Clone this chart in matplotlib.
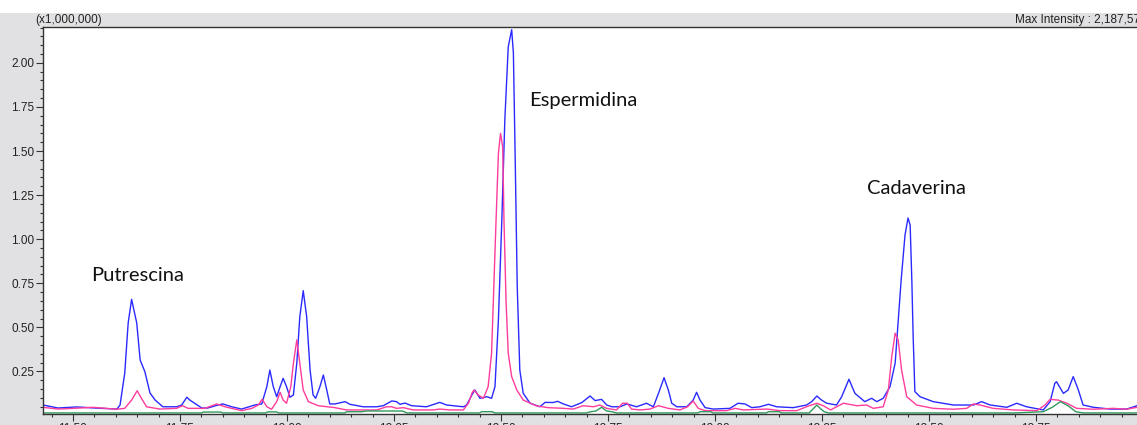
import matplotlib
matplotlib.use("Agg")
import matplotlib.pyplot as plt
from matplotlib.patches import Rectangle
from matplotlib.ticker import MultipleLocator, FormatStrFormatter

# retention time (min) / intensity (x1,000,000)
blue_t = [11.430, 11.465, 11.509, 11.551, 11.603, 11.610, 11.621, 11.629, 11.637, 11.649,
          11.657, 11.668, 11.680, 11.692, 11.710, 11.743, 11.754, 11.766, 11.773, 11.801,
          11.815, 11.839, 11.850, 11.871, 11.894, 11.925, 11.941, 11.953, 11.960, 11.968,
          11.976, 11.984, 11.991, 11.999, 12.007, 12.015, 12.023, 12.030, 12.038, 12.046,
          12.054, 12.061, 12.067, 12.077, 12.085, 12.093, 12.100, 12.112, 12.136, 12.147,
          12.178, 12.210, 12.225, 12.245, 12.256, 12.264, 12.276, 12.291, 12.326, 12.357,
          12.373, 12.412, 12.420, 12.432, 12.439, 12.451, 12.467, 12.478, 12.486, 12.494,
          12.502, 12.509, 12.517, 12.525, 12.529, 12.533, 12.538, 12.544, 12.552, 12.568,
          12.591, 12.603, 12.622, 12.632, 12.646, 12.665, 12.689, 12.708, 12.720, 12.735,
          12.747, 12.759, 12.778, 12.794, 12.817, 12.840, 12.856, 12.868, 12.881, 12.891,
          12.899, 12.911, 12.934, 12.949, 12.957, 12.965, 12.977, 12.996, 13.035, 13.054,
          13.070, 13.086, 13.105, 13.125, 13.144, 13.183, 13.214, 13.226, 13.238, 13.249,
          13.261, 13.284, 13.296, 13.313, 13.327, 13.350, 13.366, 13.378, 13.393, 13.409,
          13.421, 13.435, 13.444, 13.451, 13.456, 13.460, 13.463, 13.467, 13.479, 13.510,
          13.557, 13.604, 13.623, 13.643, 13.682, 13.705, 13.728, 13.767, 13.783, 13.794,
          13.798, 13.814, 13.825, 13.837, 13.849, 13.860, 13.884, 13.923, 13.962, 13.986]
blue_i = [0.060, 0.043, 0.049, 0.043, 0.037, 0.060, 0.241, 0.525, 0.659, 0.525,
          0.315, 0.249, 0.128, 0.088, 0.050, 0.050, 0.060, 0.104, 0.088, 0.043,
          0.043, 0.060, 0.066, 0.050, 0.037, 0.060, 0.066, 0.164, 0.258, 0.164,
          0.107, 0.164, 0.211, 0.164, 0.104, 0.117, 0.298, 0.561, 0.708, 0.561,
          0.258, 0.117, 0.098, 0.164, 0.230, 0.145, 0.066, 0.066, 0.079, 0.064,
          0.050, 0.050, 0.056, 0.083, 0.079, 0.064, 0.071, 0.056, 0.050, 0.075,
          0.060, 0.050, 0.060, 0.117, 0.145, 0.098, 0.107, 0.098, 0.164, 0.542,
          1.109, 1.676, 2.091, 2.188, 2.056, 1.489, 0.731, 0.258, 0.126, 0.070,
          0.050, 0.075, 0.074, 0.081, 0.066, 0.050, 0.074, 0.111, 0.085, 0.092,
          0.060, 0.050, 0.050, 0.066, 0.050, 0.070, 0.050, 0.126, 0.215, 0.145,
          0.070, 0.050, 0.050, 0.088, 0.132, 0.088, 0.045, 0.037, 0.041, 0.070,
          0.066, 0.045, 0.050, 0.064, 0.050, 0.045, 0.060, 0.079, 0.111, 0.088,
          0.070, 0.060, 0.107, 0.206, 0.126, 0.079, 0.098, 0.079, 0.098, 0.164,
          0.298, 0.769, 1.024, 1.120, 1.080, 0.760, 0.450, 0.136, 0.107, 0.079,
          0.060, 0.060, 0.079, 0.060, 0.047, 0.070, 0.050, 0.032, 0.079, 0.183,
          0.192, 0.126, 0.145, 0.221, 0.145, 0.060, 0.047, 0.037, 0.037, 0.056]

pink_t = [11.430, 11.465, 11.501, 11.547, 11.602, 11.621, 11.637, 11.650, 11.660, 11.672,
          11.703, 11.742, 11.756, 11.769, 11.785, 11.808, 11.836, 11.855, 11.894, 11.918,
          11.933, 11.942, 11.953, 11.964, 11.976, 11.984, 11.991, 11.999, 12.009, 12.015,
          12.023, 12.030, 12.038, 12.050, 12.073, 12.112, 12.139, 12.210, 12.233, 12.245,
          12.256, 12.272, 12.295, 12.342, 12.357, 12.381, 12.412, 12.424, 12.432, 12.437,
          12.447, 12.459, 12.470, 12.478, 12.482, 12.488, 12.494, 12.499, 12.504, 12.507,
          12.512, 12.517, 12.525, 12.537, 12.552, 12.583, 12.610, 12.646, 12.669, 12.692,
          12.716, 12.731, 12.747, 12.770, 12.784, 12.795, 12.805, 12.825, 12.848, 12.868,
          12.891, 12.918, 12.936, 12.949, 12.961, 12.977, 13.027, 13.047, 13.066, 13.121,
          13.152, 13.191, 13.218, 13.238, 13.253, 13.270, 13.300, 13.331, 13.354, 13.370,
          13.393, 13.405, 13.413, 13.421, 13.428, 13.436, 13.448, 13.471, 13.510, 13.557,
          13.588, 13.604, 13.619, 13.650, 13.697, 13.752, 13.771, 13.783, 13.802, 13.822,
          13.845, 13.884, 13.931, 13.962, 13.986]
pink_i = [0.047, 0.037, 0.041, 0.047, 0.036, 0.041, 0.088, 0.141, 0.098, 0.050,
          0.037, 0.041, 0.056, 0.041, 0.041, 0.041, 0.066, 0.050, 0.028, 0.041,
          0.060, 0.092, 0.050, 0.036, 0.079, 0.132, 0.088, 0.070, 0.164, 0.296,
          0.429, 0.296, 0.145, 0.079, 0.056, 0.045, 0.032, 0.032, 0.050, 0.050,
          0.041, 0.045, 0.032, 0.032, 0.037, 0.032, 0.032, 0.070, 0.126, 0.145,
          0.117, 0.098, 0.164, 0.353, 0.637, 1.071, 1.487, 1.600, 1.524, 1.109,
          0.637, 0.353, 0.221, 0.145, 0.088, 0.055, 0.045, 0.041, 0.037, 0.056,
          0.050, 0.060, 0.041, 0.032, 0.070, 0.070, 0.037, 0.032, 0.037, 0.056,
          0.041, 0.032, 0.050, 0.083, 0.041, 0.028, 0.028, 0.041, 0.032, 0.037,
          0.028, 0.028, 0.054, 0.070, 0.056, 0.032, 0.070, 0.056, 0.060, 0.041,
          0.050, 0.145, 0.334, 0.467, 0.429, 0.258, 0.107, 0.060, 0.041, 0.036,
          0.041, 0.066, 0.060, 0.041, 0.032, 0.028, 0.060, 0.092, 0.088, 0.070,
          0.041, 0.036, 0.041, 0.036, 0.047]

green_t = [11.430, 11.800, 11.805, 11.845, 11.850, 11.950, 11.955, 11.975, 11.980, 12.135,
           12.140, 12.175, 12.185, 12.270, 12.280, 12.450, 12.455, 12.480, 12.485, 12.700,
           12.710, 12.722, 12.735, 12.747, 12.759, 12.770, 12.960, 12.965, 12.990, 12.995,
           13.120, 13.125, 13.150, 13.155, 13.220, 13.230, 13.238, 13.246, 13.255, 13.265,
           13.700, 13.767, 13.788, 13.807, 13.826, 13.843, 13.860, 13.986]
green_i = [0.015, 0.015, 0.020, 0.020, 0.015, 0.015, 0.021, 0.021, 0.015, 0.015,
           0.022, 0.022, 0.026, 0.026, 0.015, 0.015, 0.022, 0.022, 0.015, 0.015,
           0.022, 0.026, 0.047, 0.026, 0.022, 0.015, 0.015, 0.022, 0.022, 0.015,
           0.015, 0.022, 0.022, 0.015, 0.015, 0.040, 0.060, 0.040, 0.022, 0.015,
           0.015, 0.022, 0.047, 0.079, 0.054, 0.022, 0.015, 0.015]

peak_names = ["Putrescina", "Espermidina", "Cadaverina"]
peak_label_t = [11.650, 12.692, 13.470]
peak_label_i = [0.797, 1.789, 1.290]

W, H = 1137, 425
fig = plt.figure(figsize=(W / 100, H / 100), dpi=100)
fig.patch.set_facecolor("#e1e1e3")
fig.add_artist(Rectangle((0, 1 - 13 / H), 1, 13 / H, transform=fig.transFigure,
                         facecolor="white", edgecolor="none"))

ax = fig.add_axes([43 / W, 11 / H, 1 - 43 / W, (414 - 26.5) / H])
ax.set_facecolor("white")

ax.plot(blue_t, blue_i, color="#2a2aff", lw=1.0)
ax.plot(pink_t, pink_i, color="#ff3c9c", lw=1.0)
ax.plot(green_t, green_i, color="#2f9a5c", lw=1.0)

ax.set_xlim(11.43, 13.986)
ax.set_ylim(0.009, 2.206)

ax.yaxis.set_major_locator(MultipleLocator(0.25))
ax.yaxis.set_minor_locator(MultipleLocator(0.05))
ax.yaxis.set_major_formatter(FormatStrFormatter("%.2f"))
ax.xaxis.set_major_locator(MultipleLocator(0.25))
ax.xaxis.set_minor_locator(MultipleLocator(0.05))
ax.xaxis.set_major_formatter(FormatStrFormatter("%.2f"))

ax.tick_params(which="major", length=4.8, width=0.8, color="#333333",
               labelsize=8.5, labelcolor="#222222", pad=1.5)
ax.tick_params(which="minor", length=2.4, width=0.8, color="#333333")
for lab in ax.get_xticklabels() + ax.get_yticklabels():
    lab.set_fontfamily("Liberation Sans")

for side in ["left", "bottom", "top"]:
    ax.spines[side].set_color("#333333")
    ax.spines[side].set_linewidth(1.0)
ax.spines["right"].set_visible(False)

for name, t, i in zip(peak_names, peak_label_t, peak_label_i):
    ax.text(t, i, name, ha="center", va="center", fontsize=14.5,
            family="Lato", color="#111111")

fig.text(35 / W, 1 - 19.5 / H, "(x1,000,000)", fontsize=8.5, family="Liberation Sans",
         color="#222222", va="center", ha="left")
fig.text(1015 / W, 1 - 19.5 / H, "Max Intensity : 2,187,573", fontsize=8.5,
         family="Liberation Sans", color="#222222", va="center", ha="left")

fig.savefig("out.png", dpi=100, facecolor=fig.get_facecolor())
